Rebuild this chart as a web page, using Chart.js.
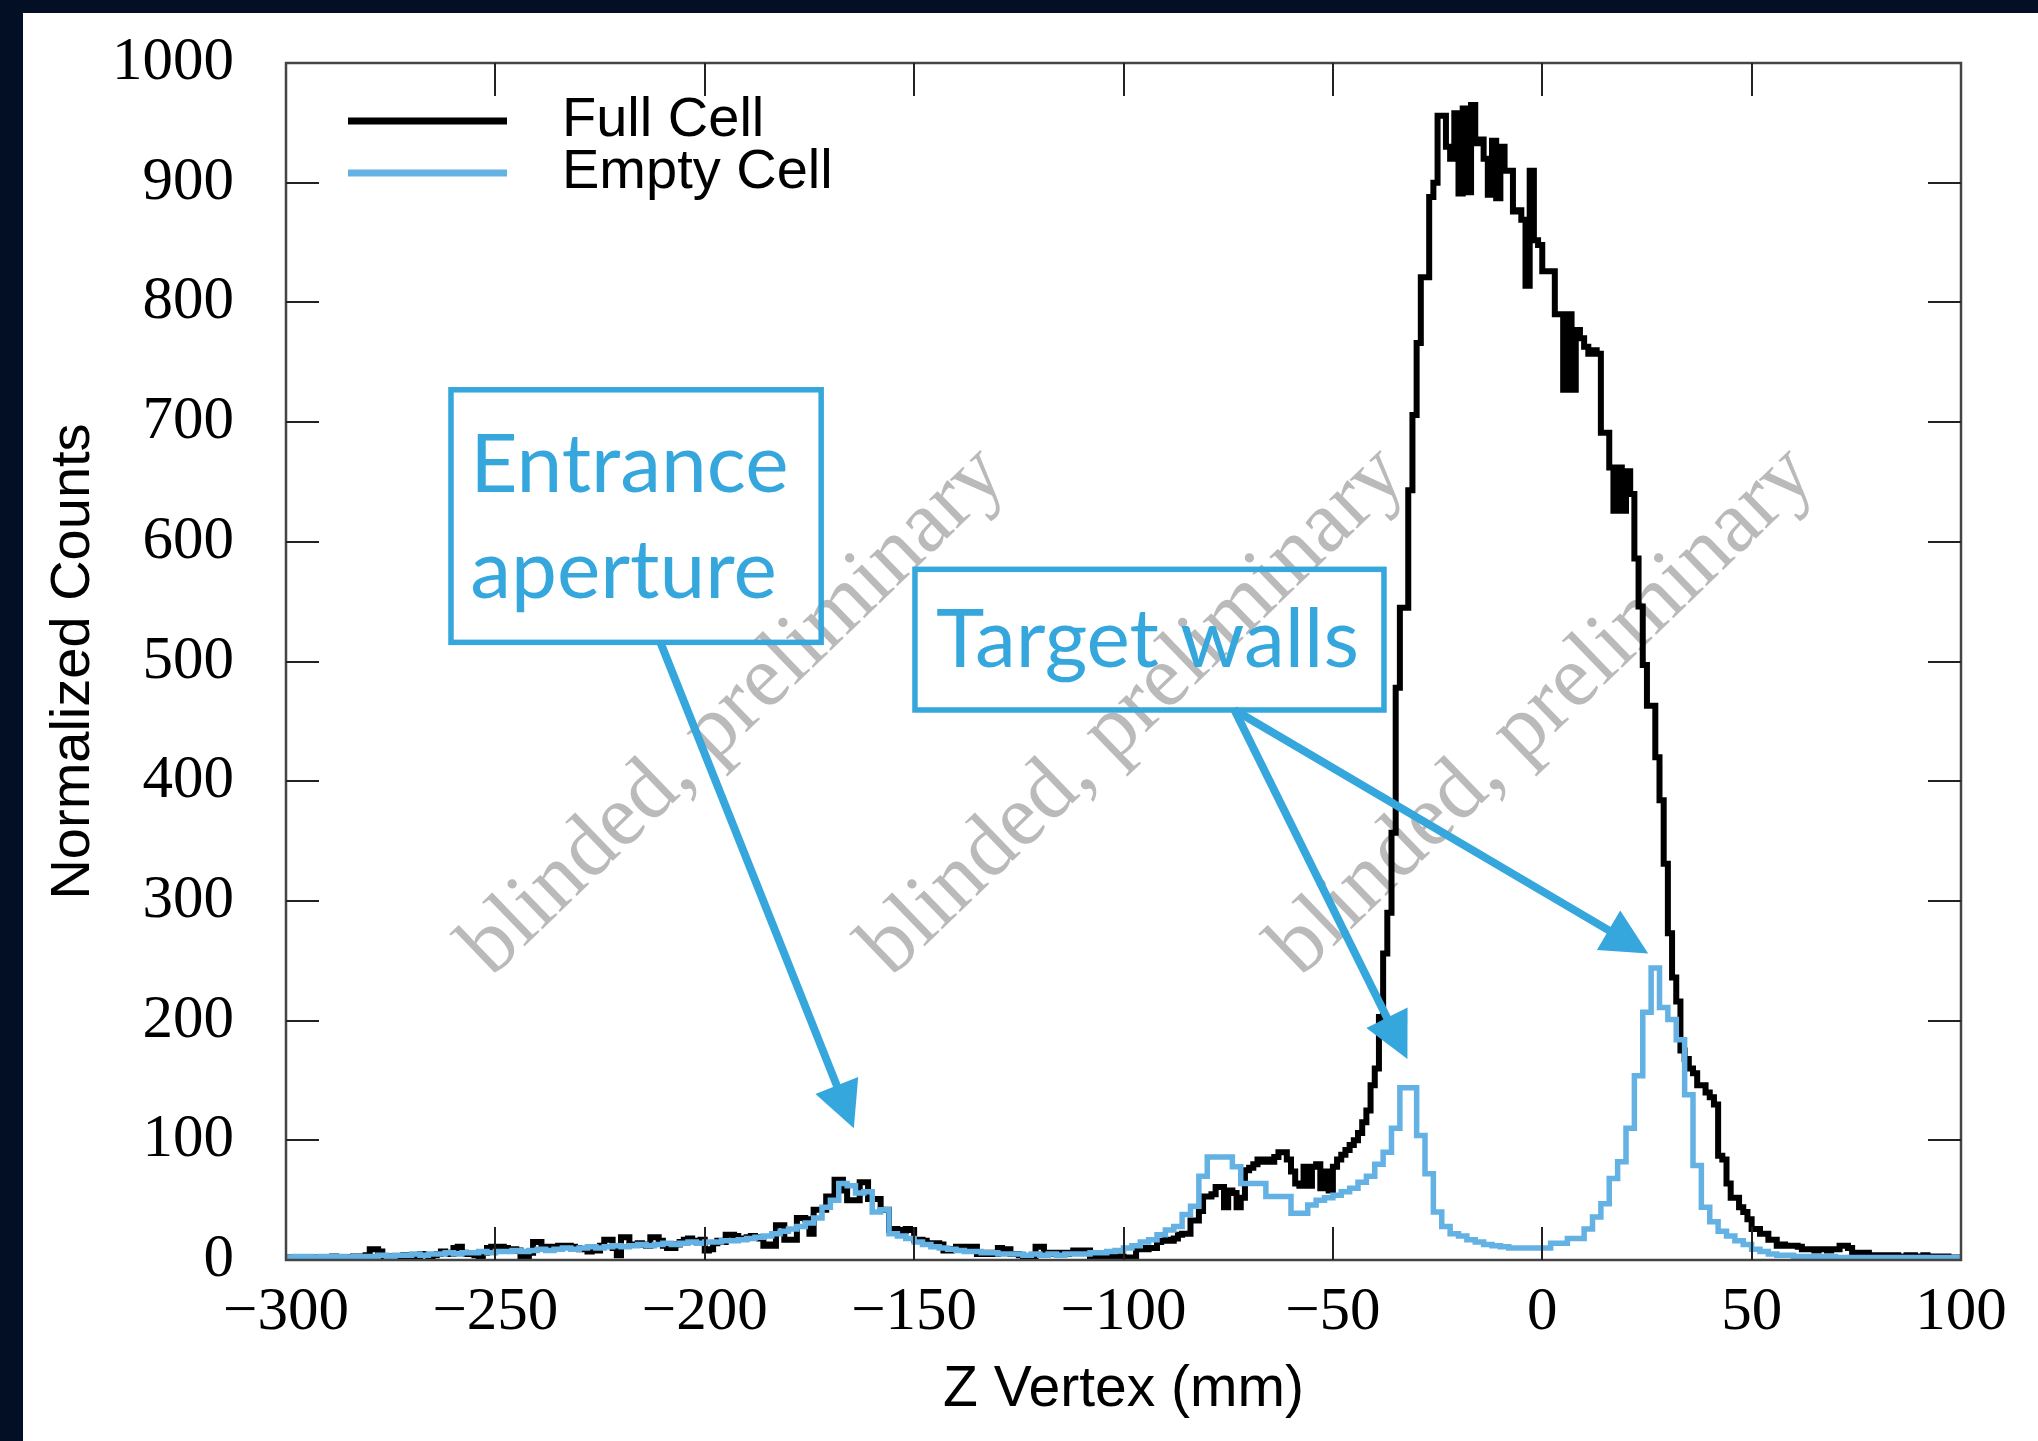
<!DOCTYPE html>
<html>
<head>
<meta charset="utf-8">
<title>Z Vertex</title>
<script src="https://cdn.jsdelivr.net/npm/chart.js"></script>
<style>
  html, body { margin: 0; padding: 0; }
  body { background: #020f24; width: 2038px; height: 1441px; overflow: hidden; position: relative; }
  .sheet { position: absolute; left: 23px; top: 13px; right: 0; bottom: 0; background: #fff; }
  .holder { position: absolute; left: 0; top: 0; width: 2038px; height: 1441px; }
</style>
</head>
<body>
<div class="sheet"></div>
<div class="holder"><canvas id="zChart"></canvas></div>
<script>
// z range of both histograms (mm)
const zMin = -300
const zMax = 100

// Full Cell: 1 mm bins starting at zMin, one row = 10 mm
const fullCell = [
  2, 2, 1, 2, 1, 2, 2, 1, 2, 2,
  2, 3, 2, 1, 2, 2, 3, 2, 3, 4,
  9, 9, 7, 3, 3, 1, 0, 3, 4, 3,
  4, 3, 5, 4, 3, 4, 5, 7, 6, 5,
  10, 11, 6, 5, 5, 4, 1, 6, 10, 11,
  10, 11, 10, 9, 9, 8, 3, 3, 6, 15,
  15, 11, 11, 10, 11, 12, 11, 12, 11, 10,
  9, 9, 7, 9, 8, 12, 17, 17, 10, 4,
  19, 19, 13, 13, 14, 13, 12, 19, 19, 16,
  12, 10, 10, 13, 15, 17, 18, 16, 15, 17,
  8, 9, 14, 16, 15, 21, 21, 20, 18, 18,
  19, 20, 19, 18, 12, 13, 12, 29, 29, 17,
  17, 17, 35, 35, 34, 22, 42, 42, 42, 53,
  53, 67, 67, 58, 50, 50, 50, 65, 65, 51,
  51, 51, 42, 42, 25, 26, 25, 24, 26, 25,
  17, 17, 16, 14, 14, 14, 13, 8, 8, 9,
  11, 11, 11, 10, 11, 5, 6, 5, 6, 5,
  10, 9, 9, 5, 5, 4, 2, 1, 2, 11,
  11, 6, 5, 6, 5, 6, 5, 6, 8, 8,
  8, 8, 3, 3, 4, 3, 3, 3, 2, 3,
  2, 2, 1, 9, 10, 9, 10, 10, 15, 16,
  17, 16, 18, 21, 22, 22, 33, 33, 41, 53,
  53, 55, 61, 61, 44, 58, 56, 44, 52, 75,
  77, 80, 84, 82, 84, 82, 86, 90, 90, 84,
  74, 64, 62, 78, 62, 78, 80, 60, 74, 58,
  78, 84, 88, 92, 96, 100, 106, 115, 125, 146,
  160, 203, 256, 290, 357, 478, 545, 545, 643, 706,
  766, 821, 821, 888, 900, 956, 956, 930, 920, 958,
  891, 962, 892, 965, 933, 936, 920, 890, 935, 887,
  930, 910, 910, 876, 877, 869, 814, 910, 852, 848,
  826, 826, 826, 790, 790, 727, 790, 727, 777, 770,
  763, 757, 760, 757, 691, 691, 662, 626, 662, 626,
  659, 640, 586, 546, 497, 463, 463, 420, 384, 331,
  273, 236, 216, 175, 168, 160, 156, 146, 146, 140,
  136, 130, 87, 84, 64, 52, 52, 44, 40, 34,
  26, 26, 22, 22, 17, 17, 12, 13, 12, 12,
  12, 11, 9, 9, 9, 8, 9, 9, 8, 9,
  9, 12, 12, 10, 6, 6, 5, 6, 4, 4,
  4, 4, 3, 4, 4, 3, 3, 4, 4, 3,
  3, 4, 3, 3, 2, 3, 3, 2, 2, 2
]

// Empty Cell: 2 mm bins starting at zMin, one row = 20 mm
const emptyCell = [
  2, 3, 3, 2, 3, 3, 3, 2, 3, 3,
  3, 4, 3, 4, 4, 5, 4, 5, 5, 6,
  5, 6, 6, 7, 6, 7, 7, 8, 7, 8,
  9, 8, 9, 10, 9, 10, 11, 10, 11, 12,
  11, 12, 13, 12, 13, 14, 13, 14, 15, 14,
  15, 15, 16, 16, 17, 18, 19, 20, 22, 24,
  26, 28, 31, 35, 44, 50, 64, 62, 56, 57,
  40, 42, 22, 20, 18, 15, 13, 11, 10, 9,
  8, 7, 7, 6, 6, 5, 5, 5, 4, 5,
  4, 5, 4, 5, 5, 5, 6, 6, 7, 8,
  10, 12, 15, 17, 21, 25, 28, 38, 45, 70,
  86, 86, 86, 78, 64, 64, 64, 53, 53, 53,
  39, 39, 46, 50, 52, 54, 57, 60, 65, 70,
  80, 90, 110, 144, 144, 104, 72, 40, 28, 22,
  20, 17, 15, 13, 12, 11, 10, 10, 10, 10,
  10, 14, 14, 18, 18, 26, 36, 47, 68, 82,
  110, 154, 207, 244, 211, 201, 184, 138, 79, 44,
  32, 24, 20, 16, 13, 9, 7, 5, 4, 4,
  3, 3, 3, 3, 3, 2, 2, 2, 2, 2,
  2, 2, 2, 2, 2, 2, 2, 2, 2, 2
]

const xTickValues = [-300, -250, -200, -150, -100, -50, 0, 50, 100]
const yTickValues = [0, 100, 200, 300, 400, 500, 600, 700, 800, 900, 1000]

const seriesLabels = ['Full Cell', 'Empty Cell']
const xTitle = 'Z Vertex (mm)'
const yTitle = 'Normalized Counts'

// overlay texts, placed in axis units
const watermarkText = 'blinded, preliminary'
const watermarkAt = [[-193, 458], [-97.5, 458], [0.2, 458]]
const callouts = [
  { lines: ['Entrance', 'aperture'], box: [-260.6, 727, -172.2, 516], textX: -256, baselines: [642, 553],
    arrows: [[-210.6, 516, -164.4, 110]] },
  { lines: ['Target walls'], box: [-149.8, 577, -37.8, 459.5], textX: -144.8, baselines: [495],
    arrows: [[-73.5, 459.5, -32.2, 168], [-73.5, 459.5, 25.3, 256]] }
]

const BLUE_LINE = '#64b1e4'
const BLUE_NOTE = '#35a7dc'

// left edge of each bin, plus a closing point at zMax for the last step
function steps(values, width) {
  const pts = values.map((v, i) => ({ x: zMin + i * width, y: v }))
  pts.push({ x: zMax, y: values[values.length - 1] })
  return pts
}

function arrow(ctx, x1, y1, x2, y2) {
  const a = Math.atan2(y2 - y1, x2 - x1)
  const head = 46, half = 23
  ctx.beginPath()
  ctx.moveTo(x1, y1)
  ctx.lineTo(x2 - Math.cos(a) * head * 0.8, y2 - Math.sin(a) * head * 0.8)
  ctx.stroke()
  ctx.beginPath()
  ctx.moveTo(x2, y2)
  ctx.lineTo(x2 - Math.cos(a) * head - Math.sin(a) * half, y2 - Math.sin(a) * head + Math.cos(a) * half)
  ctx.lineTo(x2 - Math.cos(a) * head + Math.sin(a) * half, y2 - Math.sin(a) * head - Math.cos(a) * half)
  ctx.closePath()
  ctx.fill()
}

const decorations = {
  id: 'decorations',
  beforeDatasetsDraw(chart) {
    const { ctx, scales: { x, y } } = chart
    ctx.save()
    ctx.fillStyle = '#bababa'
    ctx.font = '88px "Liberation Serif"'
    ctx.textAlign = 'center'
    ctx.textBaseline = 'middle'
    watermarkAt.forEach(([vx, vy]) => {
      ctx.save()
      ctx.translate(x.getPixelForValue(vx), y.getPixelForValue(vy))
      ctx.rotate(-44 * Math.PI / 180)
      ctx.fillText(watermarkText, 0, 0)
      ctx.restore()
    })
    ctx.restore()
  },
  afterDatasetsDraw(chart) {
    const { ctx, chartArea: area, scales: { x, y } } = chart
    ctx.save()

    // frame and inward ticks on all four sides
    ctx.strokeStyle = '#444'
    ctx.lineWidth = 2.5
    ctx.strokeRect(area.left, area.top, area.right - area.left, area.bottom - area.top)
    ctx.strokeStyle = '#222'
    ctx.lineWidth = 2
    const tick = 33
    ctx.beginPath()
    xTickValues.slice(1, -1).forEach(v => {
      const px = Math.round(x.getPixelForValue(v))
      ctx.moveTo(px, area.bottom); ctx.lineTo(px, area.bottom - tick)
      ctx.moveTo(px, area.top); ctx.lineTo(px, area.top + tick)
    })
    yTickValues.slice(1, -1).forEach(v => {
      const py = Math.round(y.getPixelForValue(v))
      ctx.moveTo(area.left, py); ctx.lineTo(area.left + tick, py)
      ctx.moveTo(area.right, py); ctx.lineTo(area.right - tick, py)
    })
    ctx.stroke()

    // legend in the upper left corner
    ctx.font = '56px "Liberation Sans"'
    ctx.textBaseline = 'middle'
    ctx.textAlign = 'left'
    chart.data.datasets.forEach((ds, i) => {
      const ly = area.top + 58 + i * 52
      ctx.strokeStyle = ds.borderColor
      ctx.lineWidth = 7
      ctx.beginPath()
      ctx.moveTo(area.left + 62, ly)
      ctx.lineTo(area.left + 221, ly)
      ctx.stroke()
      ctx.fillStyle = '#000'
      ctx.fillText(ds.label, area.left + 276, ly)
    })

    // callout boxes with arrows
    ctx.strokeStyle = BLUE_NOTE
    ctx.fillStyle = BLUE_NOTE
    ctx.font = '82px Lato'
    ctx.textBaseline = 'alphabetic'
    callouts.forEach(c => {
      const [bx1, by1, bx2, by2] = c.box
      const l = x.getPixelForValue(bx1), t = y.getPixelForValue(by1)
      const r = x.getPixelForValue(bx2), b = y.getPixelForValue(by2)
      ctx.lineWidth = 5.5
      ctx.strokeRect(l, t, r - l, b - t)
      c.lines.forEach((s, i) => ctx.fillText(s, x.getPixelForValue(c.textX), y.getPixelForValue(c.baselines[i])))
      ctx.lineWidth = 8
      c.arrows.forEach(([ax1, ay1, ax2, ay2]) => {
        arrow(ctx, x.getPixelForValue(ax1), y.getPixelForValue(ay1), x.getPixelForValue(ax2), y.getPixelForValue(ay2))
      })
    })
    ctx.restore()
  }
}

const minus = v => (v < 0 ? '\u2212' + Math.abs(v) : String(v))

const ctx = document.getElementById('zChart').getContext('2d')
const zChart = new Chart(ctx, {
  type: 'line',
  data: {
    datasets: [
      {
        label: seriesLabels[0],
        data: steps(fullCell, 1),
        borderColor: '#000000',
        borderWidth: 6,
        stepped: 'before',
        borderJoinStyle: 'miter',
        pointRadius: 0,
        fill: false,
        order: 1
      },
      {
        label: seriesLabels[1],
        data: steps(emptyCell, 2),
        borderColor: BLUE_LINE,
        borderWidth: 5.5,
        stepped: 'before',
        borderJoinStyle: 'miter',
        pointRadius: 0,
        fill: false,
        order: 0
      }
    ]
  },
  options: {
    responsive: true,
    maintainAspectRatio: false,
    animation: false,
    events: [],
    layout: { padding: { left: 30, right: 77, top: 63, bottom: 0 } },
    plugins: { legend: { display: false }, tooltip: { enabled: false } },
    scales: {
      x: {
        type: 'linear',
        min: zMin,
        max: zMax,
        afterBuildTicks: s => { s.ticks = xTickValues.map(v => ({ value: v })) },
        afterFit: s => { s.height = 181; s.paddingLeft = 0; s.paddingRight = 0 },
        grid: { display: false, drawTicks: false },
        border: { display: false },
        ticks: {
          autoSkip: false,
          maxRotation: 0,
          padding: 16,
          color: '#000',
          font: { family: 'Liberation Serif', size: 61 },
          callback: v => minus(v)
        },
        title: {
          display: true,
          text: xTitle,
          color: '#000',
          font: { family: 'Liberation Sans', size: 57 },
          padding: { top: 0, bottom: 17 }
        }
      },
      y: {
        type: 'linear',
        min: 0,
        max: 1000,
        afterBuildTicks: s => { s.ticks = yTickValues.map(v => ({ value: v })) },
        afterFit: s => { s.width = 256; s.paddingTop = 0; s.paddingBottom = 0 },
        grid: { display: false, drawTicks: false },
        border: { display: false },
        ticks: {
          autoSkip: false,
          padding: 52,
          color: '#000',
          font: { family: 'Liberation Serif', size: 61 },
          callback: v => String(v)
        },
        title: {
          display: true,
          text: yTitle,
          color: '#000',
          font: { family: 'Liberation Sans', size: 56 },
          padding: { top: 10, bottom: 0 }
        }
      }
    }
  },
  plugins: [decorations]
})
</script>
</body>
</html>
